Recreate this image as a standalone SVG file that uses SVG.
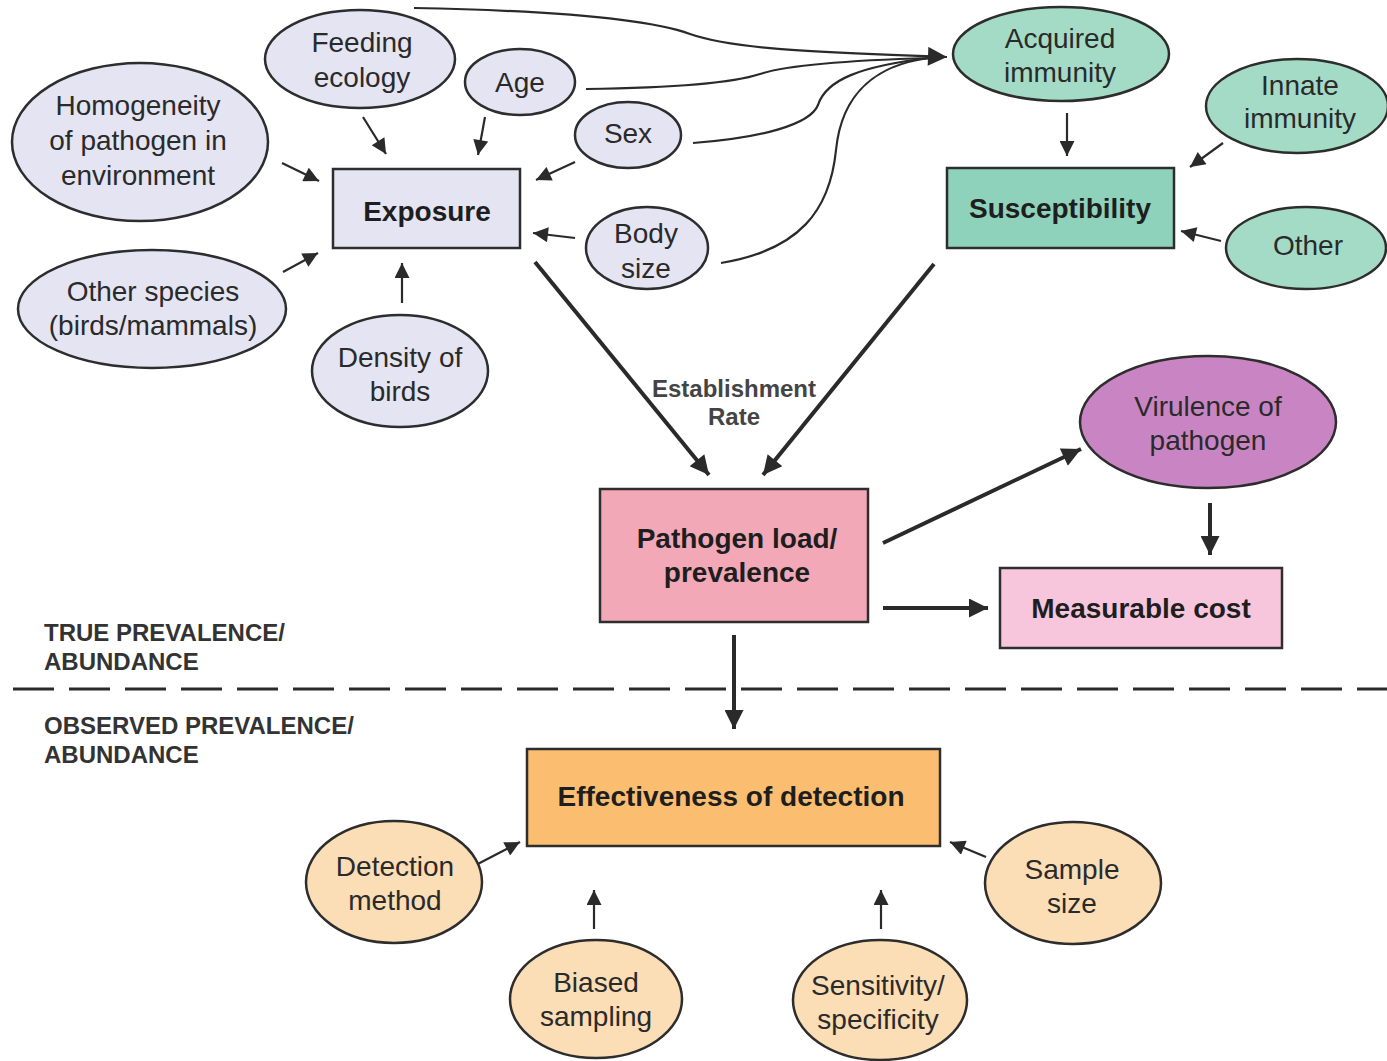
<svg xmlns="http://www.w3.org/2000/svg" width="1387" height="1061" viewBox="0 0 1387 1061">
<style>
.n{stroke:#2d2d2d;stroke-width:2.5}
.lav{fill:#e4e4f2}
.tle{fill:#a4dbc7}
.tlr{fill:#8fd2bb}
.vir{fill:#c985c3}
.pat{fill:#f2a8b7}
.mea{fill:#f7c6dd}
.eff{fill:#fbbe70}
.pea{fill:#fbddb6}
text{font-family:"Liberation Sans",Arial,Helvetica,sans-serif;text-anchor:middle;fill:#2a2a2a;font-size:28px}
.b{font-weight:bold;fill:#1e1e1e}
.lab{text-anchor:start;font-weight:bold;font-size:24px;fill:#333}
.est{font-weight:bold;font-size:24px;fill:#444}
.c{fill:none;stroke:#2a2a2a;stroke-width:2.2}
.k{fill:none;stroke:#2a2a2a;stroke-width:4}
</style>
<defs>
<marker id="a" viewBox="0 0 10 10" refX="10" refY="5" markerWidth="17" markerHeight="15" markerUnits="userSpaceOnUse" orient="auto"><path d="M0,0 L10,5 L0,10 z" fill="#2a2a2a"/></marker>
<marker id="h" viewBox="0 0 10 10" refX="10" refY="5" markerWidth="22" markerHeight="19" markerUnits="userSpaceOnUse" orient="auto"><path d="M0,0 L10,5 L0,10 z" fill="#2a2a2a"/></marker>
</defs>

<g id="connectors">
<line class="c" x1="363" y1="117" x2="386" y2="154" marker-end="url(#a)"/>
<line class="c" x1="485" y1="117" x2="478" y2="155" marker-end="url(#a)"/>
<line class="c" x1="575" y1="162" x2="536" y2="180" marker-end="url(#a)"/>
<line class="c" x1="282" y1="163" x2="319" y2="181" marker-end="url(#a)"/>
<line class="c" x1="283" y1="272" x2="318" y2="253" marker-end="url(#a)"/>
<line class="c" x1="402" y1="303" x2="402" y2="263" marker-end="url(#a)"/>
<line class="c" x1="575" y1="238" x2="533" y2="233" marker-end="url(#a)"/>
<path class="c" d="M414 8 C520 10 640 16 690 34 C730 48 800 52 947 57" marker-end="url(#h)"/>
<path class="c" d="M586 89 C660 88 730 84 760 74 C790 64 860 60 930 58"/>
<path class="c" d="M693 143 C760 138 810 125 818 105 C826 80 860 66 930 58"/>
<path class="c" d="M721 263 C800 250 830 210 836 150 C842 90 880 64 930 58"/>
<line class="c" x1="1067" y1="113" x2="1067" y2="156" marker-end="url(#a)"/>
<line class="c" x1="1223" y1="143" x2="1190" y2="167" marker-end="url(#a)"/>
<line class="c" x1="1221" y1="241" x2="1181" y2="231" marker-end="url(#a)"/>
<line class="k" x1="535" y1="262" x2="709" y2="475" marker-end="url(#h)"/>
<line class="k" x1="934" y1="264" x2="763" y2="475" marker-end="url(#h)"/>
<line class="k" x1="883" y1="543" x2="1081" y2="449" marker-end="url(#h)"/>
<line class="k" x1="1210" y1="503" x2="1210" y2="555" marker-end="url(#h)"/>
<line class="k" x1="883" y1="608" x2="988" y2="608" marker-end="url(#h)"/>
<line class="k" x1="734" y1="635" x2="734" y2="729" marker-end="url(#h)"/>
<line class="c" x1="472" y1="867" x2="520" y2="842" marker-end="url(#a)"/>
<line class="c" x1="594" y1="929" x2="594" y2="890" marker-end="url(#a)"/>
<line class="c" x1="881" y1="929" x2="881" y2="890" marker-end="url(#a)"/>
<line class="c" x1="986" y1="857" x2="950" y2="842" marker-end="url(#a)"/>
</g>

<g id="divider">
<line x1="13" y1="689" x2="1387" y2="689" stroke="#2a2a2a" stroke-width="3" stroke-dasharray="41 15"/>
<text class="lab" x="44" y="641">TRUE PREVALENCE/</text>
<text class="lab" x="44" y="670">ABUNDANCE</text>
<text class="lab" x="44" y="734">OBSERVED PREVALENCE/</text>
<text class="lab" x="44" y="763">ABUNDANCE</text>
</g>

<g id="feeding-ecology"><ellipse class="n lav" cx="360" cy="59" rx="95" ry="49"/><text x="362" y="52">Feeding</text><text x="362" y="87">ecology</text></g>
<g id="age"><ellipse class="n lav" cx="520" cy="82" rx="55" ry="33"/><text x="520" y="92">Age</text></g>
<g id="sex"><ellipse class="n lav" cx="628" cy="135" rx="53" ry="33"/><text x="628" y="143">Sex</text></g>
<g id="homogeneity"><ellipse class="n lav" cx="140" cy="142" rx="128" ry="79"/><text x="138" y="115">Homogeneity</text><text x="138" y="150">of pathogen in</text><text x="138" y="185">environment</text></g>
<g id="exposure"><rect class="n lav" x="333" y="169" width="187" height="79"/><text class="b" x="427" y="221">Exposure</text></g>
<g id="body-size"><ellipse class="n lav" cx="647" cy="248" rx="61" ry="41"/><text x="646" y="243">Body</text><text x="646" y="278">size</text></g>
<g id="other-species"><ellipse class="n lav" cx="152" cy="309" rx="134" ry="59"/><text x="153" y="301">Other species</text><text x="153" y="335">(birds/mammals)</text></g>
<g id="density"><ellipse class="n lav" cx="400" cy="371" rx="88" ry="56"/><text x="400" y="367">Density of</text><text x="400" y="401">birds</text></g>

<g id="acquired-immunity"><ellipse class="n tle" cx="1061" cy="54" rx="108" ry="47"/><text x="1060" y="48">Acquired</text><text x="1060" y="82">immunity</text></g>
<g id="innate-immunity"><ellipse class="n tle" cx="1297" cy="106" rx="91" ry="47"/><text x="1300" y="95">Innate</text><text x="1300" y="128">immunity</text></g>
<g id="susceptibility"><rect class="n tlr" x="947" y="168" width="227" height="80"/><text class="b" x="1060" y="218">Susceptibility</text></g>
<g id="other"><ellipse class="n tle" cx="1306" cy="248" rx="80" ry="41"/><text x="1308" y="255">Other</text></g>

<g id="establishment-label"><text class="est" x="734" y="397">Establishment</text><text class="est" x="734" y="425">Rate</text></g>

<g id="pathogen-load"><rect class="n pat" x="600" y="489" width="268" height="133"/><text class="b" x="737" y="548">Pathogen load/</text><text class="b" x="737" y="582">prevalence</text></g>
<g id="virulence"><ellipse class="n vir" cx="1208" cy="422" rx="128" ry="66"/><text x="1208" y="416" fill="#3a2140">Virulence of</text><text x="1208" y="450" fill="#3a2140">pathogen</text></g>
<g id="measurable-cost"><rect class="n mea" x="1000" y="568" width="282" height="80"/><text class="b" x="1141" y="618">Measurable cost</text></g>

<g id="effectiveness"><rect class="n eff" x="527" y="749" width="413" height="97"/><text class="b" x="731" y="806">Effectiveness of detection</text></g>
<g id="detection-method"><ellipse class="n pea" cx="394" cy="882" rx="88" ry="61"/><text x="395" y="876">Detection</text><text x="395" y="910">method</text></g>
<g id="sample-size"><ellipse class="n pea" cx="1073" cy="883" rx="88" ry="61"/><text x="1072" y="879">Sample</text><text x="1072" y="913">size</text></g>
<g id="biased-sampling"><ellipse class="n pea" cx="596" cy="999" rx="86" ry="59"/><text x="596" y="992">Biased</text><text x="596" y="1026">sampling</text></g>
<g id="sensitivity"><ellipse class="n pea" cx="880" cy="1000" rx="87" ry="60"/><text x="878" y="995">Sensitivity/</text><text x="878" y="1029">specificity</text></g>
</svg>
